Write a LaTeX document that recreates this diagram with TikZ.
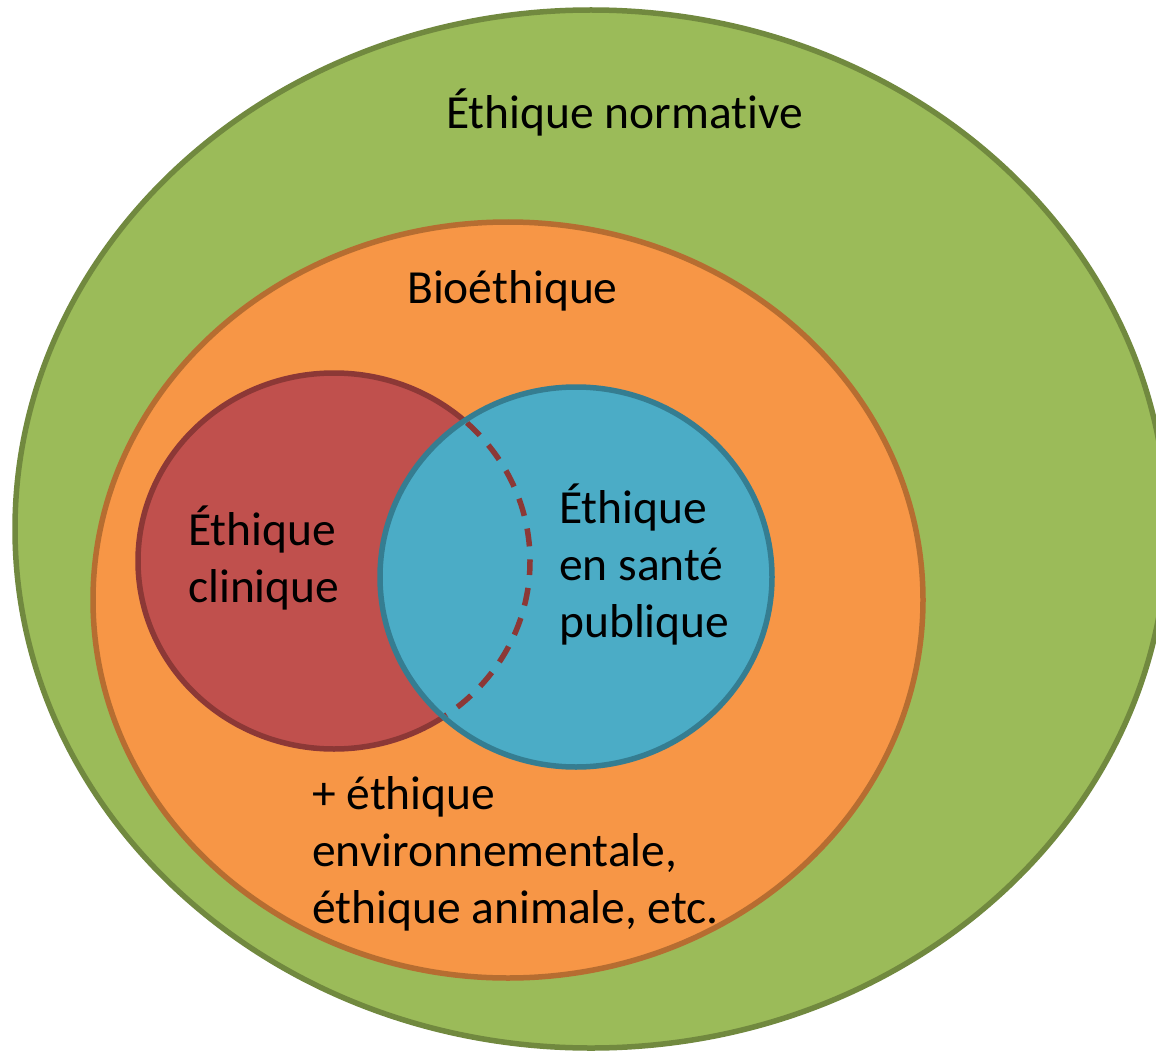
\documentclass[tikz,border=0pt]{standalone}
\usepackage{fontspec}
\setmainfont[Ligatures=NoCommon]{Carlito}
\definecolor{gfill}{HTML}{9BBB59}
\definecolor{gline}{HTML}{71893F}
\definecolor{ofill}{HTML}{F79646}
\definecolor{oline}{HTML}{B66D31}
\definecolor{rfill}{HTML}{C0504D}
\definecolor{rline}{HTML}{8C3836}
\definecolor{bfill}{HTML}{4BACC6}
\definecolor{bline}{HTML}{357D91}
\tikzset{
  ring/.style={line width=5.5pt},
  lbl/.style={anchor=base west, inner sep=0pt, align=left, font=\fontsize{47.5}{57}\selectfont, text=black}
}
\begin{document}
\begin{tikzpicture}[x=1pt,y=-1pt]
\useasboundingbox (0,0) rectangle (1156,1051);
\clip (0,0) rectangle (1156,1051);
\draw[ring, fill=gfill, draw=gline] (591,529) ellipse [x radius=576, y radius=519];
\draw[ring, fill=ofill, draw=oline] (508,600) ellipse [x radius=415, y radius=378];
\draw[ring, fill=rfill, draw=rline] (334,561) ellipse [x radius=196, y radius=188];
\draw[ring, fill=bfill, draw=bline] (576,577) ellipse [x radius=196, y radius=190];
\begin{scope}
  \clip (576,577) ellipse [x radius=193, y radius=187];
  \draw[ring, draw=rline, dash pattern=on 18pt off 13pt, dash phase=4pt] (334,561) ellipse [x radius=196, y radius=188];
\end{scope}
% base anchor of a multi-line node is the baseline of its last line
\node[lbl] (normative) at (446,129) {Éthique normative};
\node[lbl] (bio) at (407,303) {Bioéthique};
\node[lbl] (clinique) at (188,602) {Éthique\\clinique};
\node[lbl] (sante) at (559,637) {Éthique\\en santé\\publique};
\node[lbl] (autres) at (312,923) {+ éthique\\environnementale,\\éthique animale, etc.};
\end{tikzpicture}
\end{document}
